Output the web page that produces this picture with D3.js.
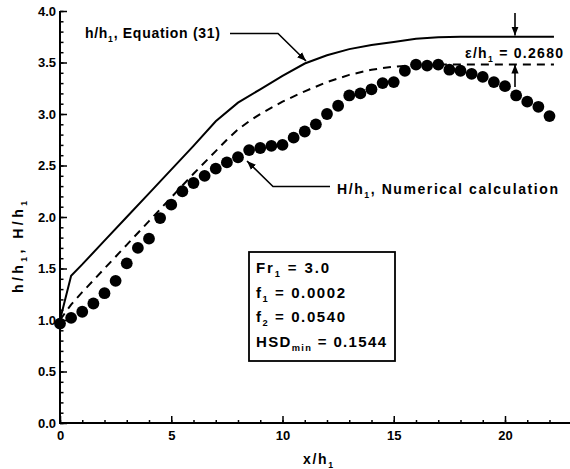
<!DOCTYPE html>
<html><head><meta charset="utf-8">
<script src="https://cdn.jsdelivr.net/npm/d3@7/dist/d3.min.js"></script>
<style>
html,body{margin:0;padding:0;background:#fff;}
svg{display:block;font-family:"Liberation Sans",Arial,Helvetica,sans-serif;font-weight:bold;}
</style></head>
<body>
<svg id="chart" width="570" height="469"></svg>
<script>
// ---- data ----
const dotX = [0,0.5,1,1.5,2,2.5,3,3.5,4,4.5,5,5.5,6,6.5,7,7.5,8,8.5,9,9.5,10,10.5,11,11.5,12,12.5,13,13.5,14,14.5,15,15.5,16,16.5,17,17.5,18,18.5,19,19.5,20,20.5,21,21.5,22];
const dotY = [0.965,1.02,1.08,1.16,1.26,1.38,1.55,1.70,1.79,1.99,2.12,2.25,2.33,2.40,2.47,2.53,2.58,2.65,2.67,2.69,2.70,2.77,2.83,2.90,3.00,3.08,3.18,3.20,3.24,3.30,3.31,3.42,3.48,3.47,3.48,3.43,3.42,3.39,3.36,3.31,3.27,3.18,3.12,3.07,2.98];
const eqX = [0,0.5,1,2,3,4,5,6,7,8,9,10,11,12,13,14,15,16,17,18,19,20,21,22.2];
const eqY = [1.0,1.43,1.54,1.77,2.0,2.23,2.46,2.69,2.93,3.11,3.24,3.37,3.49,3.57,3.63,3.67,3.70,3.73,3.745,3.75,3.75,3.75,3.75,3.75];
const dashX = [0,0.5,1,2,3,4,5,6,7,7.5,8,8.5,9,10,11,12,13,14,15,16,17,18,20,22.2];
const dashY = [1.0,1.15,1.27,1.5,1.73,1.96,2.19,2.42,2.64,2.75,2.85,2.93,3.0,3.12,3.22,3.31,3.38,3.43,3.46,3.47,3.48,3.48,3.48,3.48];
const xMajor = [0,5,10,15,20];
const xMinor = d3.range(0,23,1);
const yMajor = [0,0.5,1.0,1.5,2.0,2.5,3.0,3.5,4.0];
const yMinor = d3.range(0,4.01,0.1).map(v=>+v.toFixed(1));
const legendLines = [
  [{t:"Fr"},{t:"1",sub:true},{t:" = 3.0"}],
  [{t:"f"},{t:"1",sub:true},{t:" = 0.0002"}],
  [{t:"f"},{t:"2",sub:true},{t:" = 0.0540"}],
  [{t:"HSD"},{t:"min",sub:true},{t:" = 0.1544"}]
];

// ---- layout ----
const svg = d3.select("#chart");
const x = d3.scaleLinear().domain([0,20]).range([60,505]);
const y = d3.scaleLinear().domain([0,4]).range([423,11]);
const xEnd = 570;

svg.append("defs").append("marker")
  .attr("id","ah").attr("viewBox","0 0 10 10").attr("refX",10).attr("refY",5)
  .attr("markerWidth",9).attr("markerHeight",9).attr("markerUnits","userSpaceOnUse")
  .attr("orient","auto")
  .append("path").attr("d","M0,1 L10,5 L0,9 Z").attr("fill","#000");

// axes
const gx = svg.append("g").attr("transform",`translate(0,${y(0)})`);
gx.call(d3.axisBottom(x).tickValues(xMinor).tickSizeInner(-3).tickSizeOuter(0).tickFormat(""));
gx.select(".domain").remove();
const gx2 = svg.append("g").attr("transform",`translate(0,${y(0)})`);
gx2.call(d3.axisBottom(x).tickValues(xMajor).tickSizeInner(-7).tickSizeOuter(0).tickPadding(8).tickFormat(d3.format("d")));
gx2.select(".domain").remove();
svg.append("line").attr("x1",x(0)-1).attr("x2",xEnd).attr("y1",y(0)).attr("y2",y(0)).attr("stroke","#000").attr("stroke-width",2);

const gy = svg.append("g").attr("transform",`translate(${x(0)},0)`);
gy.call(d3.axisLeft(y).tickValues(yMinor).tickSizeInner(-3.5).tickSizeOuter(0).tickFormat(""));
gy.select(".domain").remove();
const gy2 = svg.append("g").attr("transform",`translate(${x(0)},0)`);
gy2.call(d3.axisLeft(y).tickValues(yMajor).tickSizeInner(-7).tickSizeOuter(0).tickPadding(4).tickFormat(d3.format(".1f")));
gy2.select(".domain").remove();
svg.append("line").attr("x1",x(0)).attr("x2",x(0)).attr("y1",y(4)).attr("y2",y(0)+1).attr("stroke","#000").attr("stroke-width",2);

svg.selectAll(".tick line").attr("stroke","#000").attr("stroke-width",1.5);
svg.selectAll(".tick text").attr("font-size",13).attr("font-weight","bold").attr("font-family","Liberation Sans, Arial, sans-serif").attr("fill","#000");

// lines
const line = d3.line().x(d=>x(d[0])).y(d=>y(d[1]));
svg.append("path").datum(eqX.map((v,i)=>[v,eqY[i]])).attr("d",line)
  .attr("fill","none").attr("stroke","#000").attr("stroke-width",2);
svg.append("path").datum(dashX.map((v,i)=>[v,dashY[i]])).attr("d",line)
  .attr("fill","none").attr("stroke","#000").attr("stroke-width",2).attr("stroke-dasharray","8,6");

// dots
svg.append("g").selectAll("circle").data(dotX.map((v,i)=>[v,dotY[i]])).join("circle")
  .attr("cx",d=>x(d[0])).attr("cy",d=>y(d[1])).attr("r",5.9).attr("fill","#000");

// rich text helper
function rich(parent, px, py, parts, size, len, anchor){
  const t = parent.append("text").attr("x",px).attr("y",py).attr("font-size",size)
    .attr("font-weight","bold").attr("fill","#000").attr("text-anchor",anchor||"start");
  let shifted=false;
  parts.forEach(p=>{
    const s = t.append("tspan").text(p.t);
    if(p.sub){ s.attr("font-size",size*0.62).attr("dy",4); shifted=true; }
    else if(shifted){ s.attr("dy",-4); shifted=false; }
  });
  if(len) t.attr("textLength",len).attr("lengthAdjust","spacing");
  return t;
}

// axis titles
rich(svg, 318, 464, [{t:"x/h"},{t:"1",sub:true}], 14, 30, "middle");
const yt = svg.append("g").attr("transform","translate(23,247) rotate(-90)");
rich(yt, 0, 0, [{t:"h/h"},{t:"1",sub:true},{t:", H/h"},{t:"1",sub:true}], 14, 92, "middle");

// annotations
rich(svg, 85, 38, [{t:"h/h"},{t:"1",sub:true},{t:", Equation (31)"}], 14, 135);
svg.append("path").attr("d","M230,33.5 L278,33.5 L306,61").attr("fill","none")
  .attr("stroke","#000").attr("stroke-width",1.6).attr("marker-end","url(#ah)");

rich(svg, 337, 193.5, [{t:"H/h"},{t:"1",sub:true},{t:", Numerical calculation"}], 14, 221);
svg.append("path").attr("d","M330,186.5 L273,186.5 L247,161").attr("fill","none")
  .attr("stroke","#000").attr("stroke-width",1.6).attr("marker-end","url(#ah)");

rich(svg, 465, 57.5, [{t:"ε/h"},{t:"1",sub:true},{t:" = 0.2680"}], 14, 98);
svg.append("line").attr("x1",515).attr("x2",515).attr("y1",13).attr("y2",35.5)
  .attr("stroke","#000").attr("stroke-width",1.6).attr("marker-end","url(#ah)");
svg.append("line").attr("x1",515).attr("x2",515).attr("y1",87).attr("y2",64.5)
  .attr("stroke","#000").attr("stroke-width",1.6).attr("marker-end","url(#ah)");

// legend box
svg.append("rect").attr("x",249).attr("y",252).attr("width",146).attr("height",109)
  .attr("fill","#fff").attr("stroke","#000").attr("stroke-width",1.8);
const legLens = [73, 89, 89, 130];
legendLines.forEach((parts,i)=>{
  rich(svg, 256, 273 + i*24.5, parts, 15, legLens[i]);
});
</script>
</body></html>
